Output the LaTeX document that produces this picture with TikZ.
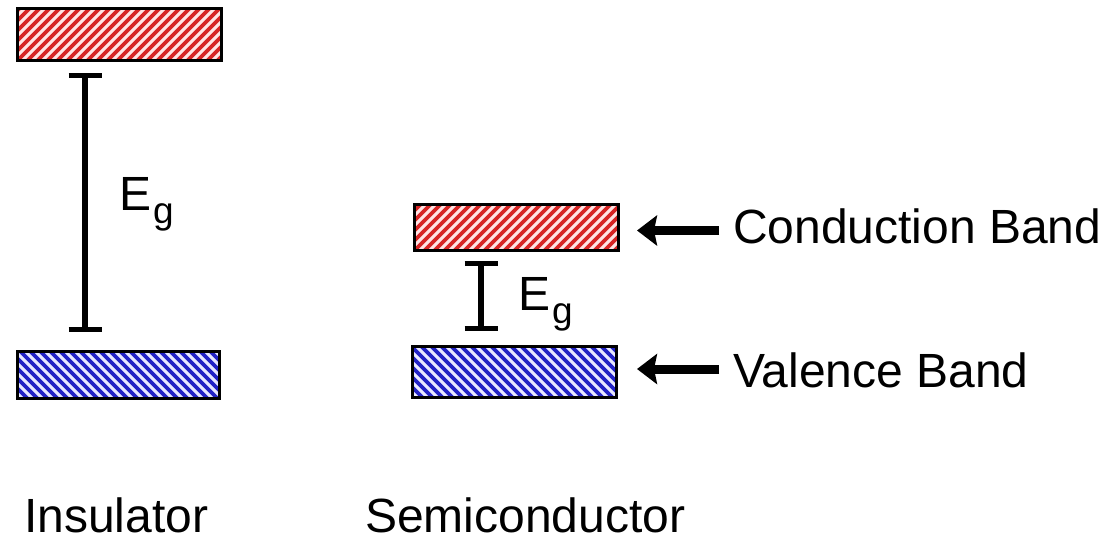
\documentclass[tikz,border=0pt]{standalone}
\usepackage{fontspec}
\setmainfont{Liberation Sans}
\usetikzlibrary{arrows.meta}
\definecolor{hatchred}{RGB}{214,36,36}
\definecolor{bgred}{RGB}{255,228,228}
\definecolor{hatchblue}{RGB}{34,34,196}
\definecolor{bgblue}{RGB}{232,232,255}
\tikzset{
  band/.style={draw=black, line width=3pt, inner sep=0pt, minimum width=204pt},
  condband/.style={band, fill=bgred, path picture={
      \foreach \k in {-8,...,24}
        \draw[hatchred, line width=3.6pt]
          ([xshift=\k*10pt]path picture bounding box.south west) -- ++(70pt,70pt);}},
  valband/.style={band, fill=bgblue, path picture={
      \foreach \k in {-2,...,30}
        \draw[hatchblue, line width=3.8pt]
          ([xshift=\k*10pt]path picture bounding box.south west) -- ++(-70pt,70pt);}},
  gapstem/.style={line width=6.5pt},
  gapcap/.style={line width=5pt},
  bigarrow/.style={line width=9pt, -{Stealth[length=20pt,width=30pt,inset=3pt]}},
  lbl/.style={inner sep=0pt, anchor=base west, text depth=0pt, font=\fontsize{48}{56}\selectfont},
}
\newcommand{\gaplabel}{E\kern2pt\raisebox{-13pt}{\fontsize{37}{40}\selectfont g}}
\begin{document}
\begin{tikzpicture}[x=1pt,y=-1pt]
  \useasboundingbox[fill=white] (0,0) rectangle (1108,539);
  % insulator
  \node[condband, minimum height=52pt] (ic) at (119.5,34.5) {};
  \node[valband, minimum height=47pt, minimum width=202pt] (iv) at (118.5,375) {};
  \coordinate (itop) at (85,75.5);
  \coordinate (ibot) at (85,329);
  \draw[gapstem] (itop) -- (ibot);
  \draw[gapcap] ([xshift=-16.5pt]itop) -- ([xshift=16.5pt]itop);
  \draw[gapcap] ([xshift=-16.5pt]ibot) -- ([xshift=16.5pt]ibot);
  \node[lbl] (ieg) at (119,210) {\gaplabel};
  % semiconductor
  \node[condband, minimum height=46pt] (sc) at (516.5,227.5) {};
  \node[valband, minimum height=51pt] (sv) at (514.5,372) {};
  \coordinate (stop) at (481,263);
  \coordinate (sbot) at (481,328);
  \draw[gapstem] (stop) -- (sbot);
  \draw[gapcap] ([xshift=-16.5pt]stop) -- ([xshift=16.5pt]stop);
  \draw[gapcap] ([xshift=-16.5pt]sbot) -- ([xshift=16.5pt]sbot);
  \node[lbl] (seg) at (518,310) {\gaplabel};
  % arrows and labels
  \coordinate (ctail) at (719,230.5);
  \coordinate (vtail) at (719,369);
  \draw[bigarrow, shorten >=17pt] (ctail) -- (ctail -| sc.east);
  \draw[bigarrow, shorten >=19pt] (vtail) -- (vtail -| sv.east);
  \node[lbl] (cl) at (733,243) {Conduction Band};
  \node[lbl] (vl) at (733,387) {Valence Band};
  % captions
  \node[lbl] (ins) at (24,532) {Insulator};
  \node[lbl] (semi) at (365,532) {Semiconductor};
\end{tikzpicture}
\end{document}
